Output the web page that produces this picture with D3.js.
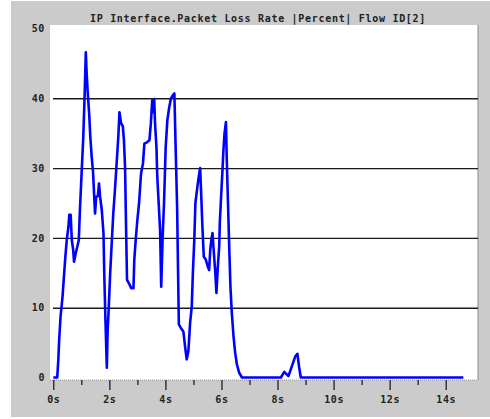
<meta charset="utf-8">
<html>
<head>
<style>
  body { margin: 0; background: #fff; }
  .lbl text { font-family: "DejaVu Sans Mono", monospace; font-weight: bold; font-size: 10px; fill: #222; letter-spacing: 0.6px; }
</style>
</head>
<body>
<div id="chart"></div>
<script src="https://d3js.org/d3.v7.min.js"></script>
<script>
// time (s) of each sample
var times = [0, 0.14, 0.18, 0.21, 0.26, 0.33, 0.38, 0.43, 0.48, 0.54, 0.57, 0.62, 0.66, 0.71, 0.74, 0.80, 0.86, 0.91, 0.95,
  1.01, 1.07, 1.12, 1.16, 1.19, 1.23, 1.28, 1.32, 1.37, 1.42, 1.46, 1.49, 1.53, 1.59, 1.63, 1.67, 1.73, 1.79, 1.82, 1.86, 1.91, 1.94, 1.97,
  2.03, 2.09, 2.14, 2.20, 2.26, 2.32, 2.36, 2.42, 2.48, 2.52, 2.56, 2.60, 2.63, 2.70, 2.78, 2.86, 2.89, 2.94,
  3.00, 3.06, 3.13, 3.20, 3.25, 3.34, 3.43, 3.48, 3.53, 3.56, 3.60, 3.63, 3.68, 3.71, 3.76, 3.81, 3.85, 3.90, 3.95,
  4.01, 4.07, 4.14, 4.20, 4.26, 4.32, 4.37, 4.42, 4.45, 4.48, 4.55, 4.64, 4.70, 4.76, 4.82, 4.88, 4.94, 4.98,
  5.03, 5.07, 5.14, 5.19, 5.24, 5.28, 5.32, 5.37, 5.44, 5.51, 5.56, 5.60, 5.64, 5.68, 5.73, 5.78, 5.82, 5.87, 5.92, 5.94, 5.98,
  6.03, 6.07, 6.11, 6.16, 6.19, 6.23, 6.27, 6.32, 6.37, 6.43, 6.49, 6.55, 6.63, 6.73,
  8.12, 8.24, 8.39, 8.51, 8.63, 8.71, 8.77, 8.83, 14.63];
// packet loss rate (%)
var lossRate = [0, 0, 2.6, 5.4, 8.8, 11.6, 14.5, 17.3, 19.7, 21.6, 23.3, 23.3, 19.7, 18.3, 16.6, 17.8, 18.8, 19.7, 24,
  29.3, 34.5, 40.7, 46.6, 43.6, 40.7, 37.8, 34.5, 31.6, 29.3, 25.9, 23.5, 25.9, 26, 27.8, 25.9, 24, 20.7, 14.5, 8.3, 1.4, 6.9, 9.2,
  15, 19.7, 23.5, 26.9, 30.7, 34.5, 38, 36.4, 36, 34, 30.2, 20.7, 14, 13.5, 12.8, 12.8, 16.9, 19.7,
  22.6, 25, 29.2, 30.7, 33.5, 33.7, 34, 36.4, 39.7, 38, 39.9, 36.4, 33, 28.8, 25, 21.1, 13, 20, 25,
  33, 36.9, 38.8, 40, 40.4, 40.7, 32.1, 24, 15.4, 7.6, 7.1, 6.6, 4.5, 2.6, 3.8, 7.8, 10.2, 15,
  19.7, 25, 27.3, 28.8, 30, 25.9, 21.6, 17.3, 16.9, 15.9, 15.4, 18.3, 19.7, 20.7, 17.8, 15, 12.1, 15.9, 18.8, 22.1, 25.4,
  29.2, 32.6, 35, 36.6, 31.1, 25.4, 19.7, 13, 9.2, 5.9, 3.5, 1.9, 0.7, 0,
  0, 0.8, 0.2, 1.6, 3, 3.4, 1.5, 0, 0];

var title = "IP Interface.Packet Loss Rate |Percent| Flow ID[2]";
var yTicks = [0, 10, 20, 30, 40, 50];
var gridTicks = [10, 20, 30, 40];
var xMajor = [0, 2, 4, 6, 8, 10, 12, 14];
var xMinor = [1, 3, 5, 7, 9, 11, 13];

var W = 490, H = 419;
var svg = d3.select("#chart").append("svg").attr("width", W).attr("height", H);

// grey panel + white plot area
svg.append("rect").attr("x", 11).attr("y", 1).attr("width", W - 11).attr("height", 416).attr("fill", "#cbcbcb");
svg.append("rect").attr("x", 50).attr("y", 25).attr("width", 428).attr("height", 355).attr("fill", "#fff");
svg.append("line").attr("x1", 478).attr("x2", 478).attr("y1", 25).attr("y2", 380).attr("stroke", "#888").attr("stroke-width", 1);

var x = d3.scaleLinear().domain([0, 14]).range([53.3, 445.7]);
var y = d3.scaleLinear().domain([0, 50]).range([377.5, 28.5]);

// grid lines
var grid = svg.append("g").attr("transform", "translate(53,0)")
  .call(d3.axisLeft(y).tickValues(gridTicks).tickSize(-425).tickFormat(""));
grid.select(".domain").remove();
grid.selectAll(".tick line").attr("stroke", "#1a1a1a").attr("stroke-width", 1.4);

// y labels
var yAx = svg.append("g").attr("class", "lbl").attr("transform", "translate(53,0)")
  .call(d3.axisLeft(y).tickValues(yTicks).tickSize(0).tickPadding(8));
yAx.select(".domain").remove();

// bottom edge of plot
svg.append("line").attr("x1", 50).attr("x2", 478).attr("y1", 380).attr("y2", 380)
  .attr("stroke", "#999").attr("stroke-width", 1).attr("stroke-dasharray", "1,1");

// x axis
var xAx = svg.append("g").attr("class", "lbl").attr("transform", "translate(0,380)")
  .call(d3.axisBottom(x).tickValues(xMajor).tickSize(10).tickPadding(6).tickFormat(function(d) { return d + "s"; }));
xAx.select(".domain").remove();
xAx.selectAll(".tick line").attr("stroke", "#111").attr("stroke-width", 1.2);
var xMin = svg.append("g").attr("transform", "translate(0,380)")
  .call(d3.axisBottom(x).tickValues(xMinor).tickSize(5).tickFormat(""));
xMin.select(".domain").remove();
xMin.selectAll(".tick line").attr("stroke", "#111").attr("stroke-width", 1.2);

// title
svg.append("text").attr("class", "ttl").attr("x", 258).attr("y", 22).attr("text-anchor", "middle")
  .style("font-family", "DejaVu Sans Mono, monospace").style("font-weight", "bold")
  .style("font-size", "10px").style("letter-spacing", "0.7px").style("fill", "#222")
  .text(title);

// series
var data = times.map(function(t, i) { return {t: t, v: lossRate[i]}; });
var line = d3.line().x(function(d) { return x(d.t); }).y(function(d) { return y(d.v); });
svg.append("path").datum(data).attr("d", line)
  .attr("fill", "none").attr("stroke", "#0000ff").attr("stroke-width", 2.6).attr("stroke-linejoin", "round");
</script>
</body>
</html>
